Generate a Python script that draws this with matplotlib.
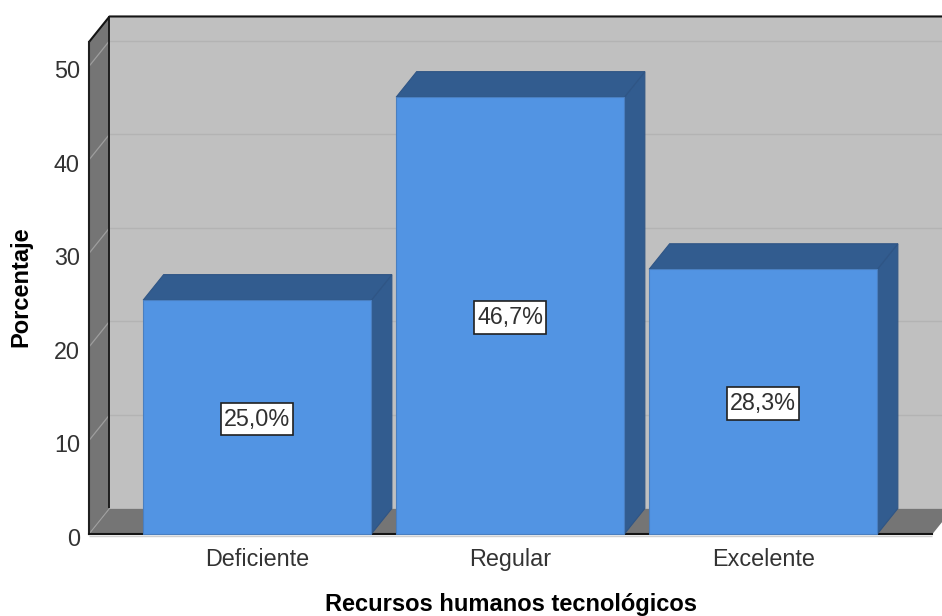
import matplotlib
matplotlib.use("Agg")
import matplotlib.pyplot as plt
from matplotlib.patches import Polygon, Rectangle
from matplotlib.transforms import ScaledTranslation

plt.rcParams['font.family'] = ['Liberation Sans', 'DejaVu Sans']

categories = ['Deficiente', 'Regular', 'Excelente']
values = [25.0, 46.7, 28.3]
value_labels = ['25,0%', '46,7%', '28,3%']
y_ticks = [0, 10, 20, 30, 40, 50]
x_title = 'Recursos humanos tecnológicos'
y_title = 'Porcentaje'

W, H = 942, 616
fig = plt.figure(figsize=(W / 100, H / 100), dpi=100, facecolor='white')
ax = fig.add_axes([89 / W, 1 - 534 / H, (932.5 - 89) / W, (534 - 42) / H])
ax.patch.set_visible(False)

XMIN, XMAX = -0.665, 2.669
YMIN, YMAX = 0, 52.6
ax.set_xlim(XMIN, XMAX)
ax.set_ylim(YMIN, YMAX)

DX = 0.081      # depth in category units
DY = 2.73       # depth in value units
BAR_W = 0.902
BOX_W = 0.285   # label box width in category units
BOX_H = 3.5     # label box height in value units

WALL = '#C0C0C0'
SIDE = '#757575'
FRONT = '#5294E3'
DARK = '#325C8F'
EDGE = '#2F5585'


def poly(pts, fc, ec='none', lw=0, z=1):
    ax.add_patch(Polygon(pts, closed=True, facecolor=fc, edgecolor=ec,
                         linewidth=lw, zorder=z, clip_on=False))


def line(xs, ys, color, lw, z=1.5):
    ax.plot(xs, ys, color=color, lw=lw, zorder=z, clip_on=False,
            solid_capstyle='butt')


# walls
poly([(XMIN + DX, DY), (XMAX + DX, DY), (XMAX + DX, YMAX + DY), (XMIN + DX, YMAX + DY)], WALL)
poly([(XMIN, 0), (XMIN + DX, DY), (XMIN + DX, YMAX + DY), (XMIN, YMAX)], SIDE)
poly([(XMIN, 0), (XMAX, 0), (XMAX + DX, DY), (XMIN + DX, DY)], SIDE)

# grid lines
for t in y_ticks[1:]:
    line([XMIN + DX, XMAX + DX], [t + DY, t + DY], '#B3B3B3', 1.0)
    line([XMIN, XMIN + DX], [t, t + DY], '#9E9E9E', 0.9)
line([XMIN, XMIN + DX], [0, DY], '#9E9E9E', 0.8)

# outline of the box
line([XMIN, XMIN + DX, XMAX + DX], [YMAX, YMAX + DY, YMAX + DY], '#151515', 1.5, 1.8)
line([XMIN + DX, XMIN + DX], [DY, YMAX + DY], '#151515', 1.3, 1.8)
line([XMIN, XMAX], [-0.2, -0.2], '#CFCFCF', 1.0, 1.2)

# labels sit 2 px below the bar's middle
label_shift = ax.transData + ScaledTranslation(0, -2 / 100, fig.dpi_scale_trans)

# bars
for i, v in enumerate(values):
    l, r = i - BAR_W / 2, i + BAR_W / 2
    poly([(r, 0), (r + DX, DY), (r + DX, v + DY), (r, v)], DARK, EDGE, 0.8, 3)
    poly([(l, v), (r, v), (r + DX, v + DY), (l + DX, v + DY)], DARK, EDGE, 0.8, 3)
    poly([(l, 0), (r, 0), (r, v), (l, v)], FRONT, '#4A7FC0', 0.8, 3.1)
    ax.add_patch(Rectangle((i - BOX_W / 2, v / 2 - BOX_H / 2), BOX_W, BOX_H,
                           facecolor='white', edgecolor='#202020', linewidth=1.2,
                           zorder=4, transform=label_shift))
    ax.text(i, v / 2, value_labels[i], ha='center', va='center', fontsize=16.8,
            color='#303030', zorder=5, transform=label_shift)

# axes
for s in ['top', 'right']:
    ax.spines[s].set_visible(False)
ax.spines['left'].set_color('#202020')
ax.spines['left'].set_linewidth(1.5)
ax.spines['bottom'].set_color('#151515')
ax.spines['bottom'].set_linewidth(1.5)
ax.set_xticks(range(len(categories)))
ax.set_xticklabels(categories, fontsize=16.8, color='#333333')
ax.set_yticks(y_ticks)
ax.set_yticklabels([str(t) for t in y_ticks], fontsize=16.8, color='#333333')
ax.tick_params(axis='both', length=0)
ax.tick_params(axis='x', pad=10)
ax.tick_params(axis='y', pad=6.5)
shift = ScaledTranslation(0, -3 / 100, fig.dpi_scale_trans)
for lab in ax.get_yticklabels():
    lab.set_transform(lab.get_transform() + shift)

fig.text(510.5 / W, 1 - 604 / H, x_title, ha='center', va='center',
         fontsize=17, fontweight='bold', color='black')
fig.text(21 / W, 1 - 287 / H, y_title, ha='center', va='center', rotation=90,
         fontsize=17, fontweight='bold', color='black')

fig.savefig('out.png', dpi=100, facecolor='white')
